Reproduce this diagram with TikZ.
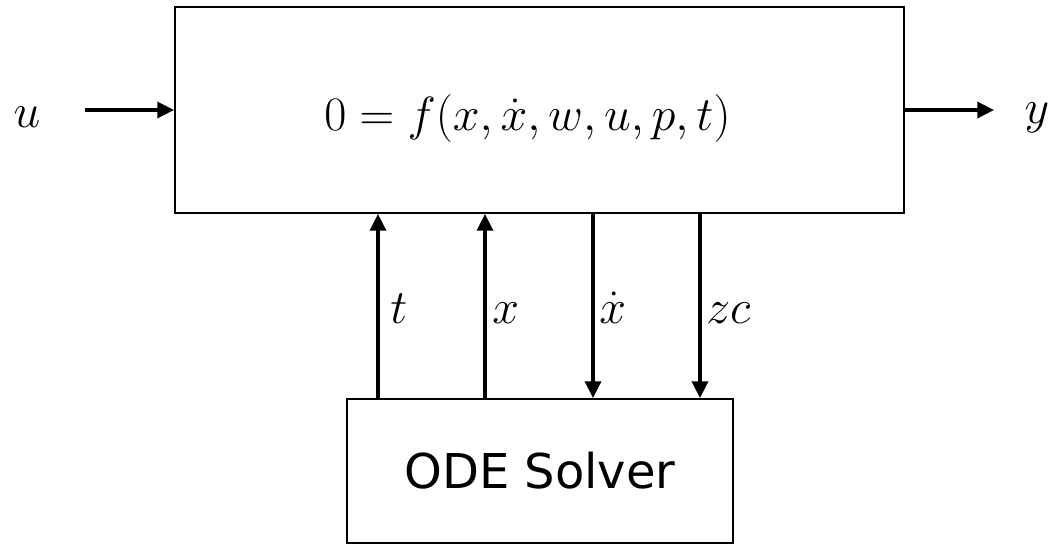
\RequirePackage{fix-cm}
\documentclass[tikz,border=0pt]{standalone}
\usepackage{fontspec}
\newfontfamily\solverfont{DejaVu Sans}
\usepackage{tikz}
\usetikzlibrary{arrows.meta, positioning, calc}
\definecolor{blockline}{HTML}{000000}
\definecolor{signal}{HTML}{000000}
\tikzset{
  % Block boxes
  block/.style={
    rectangle, draw=blockline, line width=1.5pt, fill=white,
    inner sep=0pt, align=center,
  },
  % Math labels
  siglabel/.style={font=\fontsize{36}{43}\selectfont, inner sep=0pt, text=signal},
  % Arrows
  sigarrow/.style={-{Triangle[length=12.5pt, width=12pt]}, line width=2.5pt, draw=signal},
}

\begin{document}
\begin{tikzpicture}[x=0.75pt, y=-0.75pt]

  \useasboundingbox (0,0) rectangle (1051,544);

  % DAE block
  \node[block, minimum width=546.75pt, minimum height=154.5pt] (dae) at (539.5,110) {};
  \node[siglabel, anchor=base] (eqn) at (527.5,130) {$0 = f(x,\dot{x},w,u,p,t)$};

  % Solver block
  \node[block, minimum width=289.5pt, minimum height=108pt,
        font=\solverfont\fontsize{36}{43}\selectfont] (solver) at (540,471) {ODE Solver};

  % Input and output
  \coordinate (uin) at (85,110);
  \coordinate (yout) at (994,110);
  \node[siglabel, anchor=base] (ulab) at (27,127) {$u$};
  \node[siglabel, anchor=base] (ylab) at (1037,123) {$y$};
  \draw[sigarrow] (uin) -- (dae.west |- uin);
  \draw[sigarrow] (dae.east |- yout) -- (yout);

  % Solver signals
  \coordinate (tpos) at (378,0);
  \coordinate (xpos) at (485,0);
  \coordinate (xdpos) at (593,0);
  \coordinate (zcpos) at (700,0);
  \draw[sigarrow] (solver.north -| tpos) -- (dae.south -| tpos);
  \draw[sigarrow] (solver.north -| xpos) -- (dae.south -| xpos);
  \draw[sigarrow] (dae.south -| xdpos) -- (solver.north -| xdpos);
  \draw[sigarrow] (dae.south -| zcpos) -- (solver.north -| zcpos);

  \node[siglabel, anchor=base west] (tlab) at (390,323) {$t$};
  \node[siglabel, anchor=base west] (xlab) at (492,323) {$x$};
  \node[siglabel, anchor=base west] (xdlab) at (599,323) {$\dot{x}$};
  \node[siglabel, anchor=base west] (zclab) at (706,323) {$zc$};

\end{tikzpicture}
\end{document}
